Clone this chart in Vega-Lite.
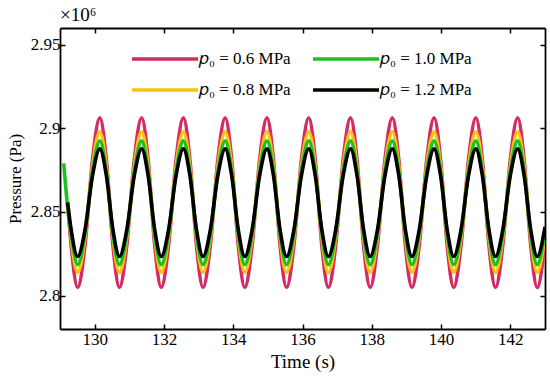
{
  "$schema": "https://vega.github.io/schema/vega-lite/v6.json",
  "width": 485,
  "height": 301,
  "autosize": {"type": "none"},
  "padding": {"left": 60, "top": 28, "right": 5, "bottom": 50},
  "background": "white",
  "config": {
    "view": {"stroke": null},
    "font": "Liberation Serif",
    "axis": {
      "domainColor": "black",
      "domainWidth": 1.8,
      "tickColor": "black",
      "tickWidth": 1.5,
      "tickSize": -5,
      "grid": false,
      "labelFont": "Liberation Serif",
      "labelFontSize": 17,
      "labelColor": "black",
      "titleFont": "Liberation Serif",
      "titleFontSize": 18,
      "titleFontWeight": "normal",
      "titleColor": "black"
    }
  },
  "title": {
    "text": "×10⁶",
    "anchor": "start",
    "frame": "group",
    "font": "Liberation Serif",
    "fontSize": 19,
    "fontWeight": "normal",
    "color": "black",
    "offset": 2
  },
  "data": {
    "values": [
      {"t": 129.108, "c": 2.879},
      {"t": 129.22, "a": 2.8556, "b": 2.8559, "c": 2.853, "d": 2.8556},
      {"t": 129.321, "a": 2.8302, "b": 2.8349, "c": 2.837, "d": 2.8395},
      {"t": 129.51, "a": 2.8048, "b": 2.8138, "c": 2.8185, "d": 2.8234},
      {"t": 129.723, "a": 2.8302, "b": 2.8349, "c": 2.837, "d": 2.8395},
      {"t": 129.937, "a": 2.881, "b": 2.877, "c": 2.874, "d": 2.8716},
      {"t": 130.15, "a": 2.9063, "b": 2.898, "c": 2.8925, "d": 2.8877},
      {"t": 130.339, "a": 2.881, "b": 2.877, "c": 2.874, "d": 2.8716},
      {"t": 130.527, "a": 2.8302, "b": 2.8349, "c": 2.837, "d": 2.8395},
      {"t": 130.716, "a": 2.8048, "b": 2.8138, "c": 2.8185, "d": 2.8234},
      {"t": 130.929, "a": 2.8302, "b": 2.8349, "c": 2.837, "d": 2.8395},
      {"t": 131.143, "a": 2.881, "b": 2.877, "c": 2.874, "d": 2.8716},
      {"t": 131.356, "a": 2.9063, "b": 2.898, "c": 2.8925, "d": 2.8877},
      {"t": 131.545, "a": 2.881, "b": 2.877, "c": 2.874, "d": 2.8716},
      {"t": 131.733, "a": 2.8302, "b": 2.8349, "c": 2.837, "d": 2.8395},
      {"t": 131.922, "a": 2.8048, "b": 2.8138, "c": 2.8185, "d": 2.8234},
      {"t": 132.135, "a": 2.8302, "b": 2.8349, "c": 2.837, "d": 2.8395},
      {"t": 132.349, "a": 2.881, "b": 2.877, "c": 2.874, "d": 2.8716},
      {"t": 132.562, "a": 2.9063, "b": 2.898, "c": 2.8925, "d": 2.8877},
      {"t": 132.751, "a": 2.881, "b": 2.877, "c": 2.874, "d": 2.8716},
      {"t": 132.939, "a": 2.8302, "b": 2.8349, "c": 2.837, "d": 2.8395},
      {"t": 133.128, "a": 2.8048, "b": 2.8138, "c": 2.8185, "d": 2.8234},
      {"t": 133.341, "a": 2.8302, "b": 2.8349, "c": 2.837, "d": 2.8395},
      {"t": 133.555, "a": 2.881, "b": 2.877, "c": 2.874, "d": 2.8716},
      {"t": 133.768, "a": 2.9063, "b": 2.898, "c": 2.8925, "d": 2.8877},
      {"t": 133.957, "a": 2.881, "b": 2.877, "c": 2.874, "d": 2.8716},
      {"t": 134.145, "a": 2.8302, "b": 2.8349, "c": 2.837, "d": 2.8395},
      {"t": 134.334, "a": 2.8048, "b": 2.8138, "c": 2.8185, "d": 2.8234},
      {"t": 134.547, "a": 2.8302, "b": 2.8349, "c": 2.837, "d": 2.8395},
      {"t": 134.761, "a": 2.881, "b": 2.877, "c": 2.874, "d": 2.8716},
      {"t": 134.974, "a": 2.9063, "b": 2.898, "c": 2.8925, "d": 2.8877},
      {"t": 135.163, "a": 2.881, "b": 2.877, "c": 2.874, "d": 2.8716},
      {"t": 135.351, "a": 2.8302, "b": 2.8349, "c": 2.837, "d": 2.8395},
      {"t": 135.54, "a": 2.8048, "b": 2.8138, "c": 2.8185, "d": 2.8234},
      {"t": 135.753, "a": 2.8302, "b": 2.8349, "c": 2.837, "d": 2.8395},
      {"t": 135.967, "a": 2.881, "b": 2.877, "c": 2.874, "d": 2.8716},
      {"t": 136.18, "a": 2.9063, "b": 2.898, "c": 2.8925, "d": 2.8877},
      {"t": 136.369, "a": 2.881, "b": 2.877, "c": 2.874, "d": 2.8716},
      {"t": 136.557, "a": 2.8302, "b": 2.8349, "c": 2.837, "d": 2.8395},
      {"t": 136.746, "a": 2.8048, "b": 2.8138, "c": 2.8185, "d": 2.8234},
      {"t": 136.959, "a": 2.8302, "b": 2.8349, "c": 2.837, "d": 2.8395},
      {"t": 137.173, "a": 2.881, "b": 2.877, "c": 2.874, "d": 2.8716},
      {"t": 137.386, "a": 2.9063, "b": 2.898, "c": 2.8925, "d": 2.8877},
      {"t": 137.575, "a": 2.881, "b": 2.877, "c": 2.874, "d": 2.8716},
      {"t": 137.763, "a": 2.8302, "b": 2.8349, "c": 2.837, "d": 2.8395},
      {"t": 137.952, "a": 2.8048, "b": 2.8138, "c": 2.8185, "d": 2.8234},
      {"t": 138.165, "a": 2.8302, "b": 2.8349, "c": 2.837, "d": 2.8395},
      {"t": 138.379, "a": 2.881, "b": 2.877, "c": 2.874, "d": 2.8716},
      {"t": 138.592, "a": 2.9063, "b": 2.898, "c": 2.8925, "d": 2.8877},
      {"t": 138.781, "a": 2.881, "b": 2.877, "c": 2.874, "d": 2.8716},
      {"t": 138.969, "a": 2.8302, "b": 2.8349, "c": 2.837, "d": 2.8395},
      {"t": 139.158, "a": 2.8048, "b": 2.8138, "c": 2.8185, "d": 2.8234},
      {"t": 139.371, "a": 2.8302, "b": 2.8349, "c": 2.837, "d": 2.8395},
      {"t": 139.585, "a": 2.881, "b": 2.877, "c": 2.874, "d": 2.8716},
      {"t": 139.798, "a": 2.9063, "b": 2.898, "c": 2.8925, "d": 2.8877},
      {"t": 139.987, "a": 2.881, "b": 2.877, "c": 2.874, "d": 2.8716},
      {"t": 140.175, "a": 2.8302, "b": 2.8349, "c": 2.837, "d": 2.8395},
      {"t": 140.364, "a": 2.8048, "b": 2.8138, "c": 2.8185, "d": 2.8234},
      {"t": 140.577, "a": 2.8302, "b": 2.8349, "c": 2.837, "d": 2.8395},
      {"t": 140.791, "a": 2.881, "b": 2.877, "c": 2.874, "d": 2.8716},
      {"t": 141.004, "a": 2.9063, "b": 2.898, "c": 2.8925, "d": 2.8877},
      {"t": 141.193, "a": 2.881, "b": 2.877, "c": 2.874, "d": 2.8716},
      {"t": 141.381, "a": 2.8302, "b": 2.8349, "c": 2.837, "d": 2.8395},
      {"t": 141.57, "a": 2.8048, "b": 2.8138, "c": 2.8185, "d": 2.8234},
      {"t": 141.783, "a": 2.8302, "b": 2.8349, "c": 2.837, "d": 2.8395},
      {"t": 141.997, "a": 2.881, "b": 2.877, "c": 2.874, "d": 2.8716},
      {"t": 142.21, "a": 2.9063, "b": 2.898, "c": 2.8925, "d": 2.8877},
      {"t": 142.399, "a": 2.881, "b": 2.877, "c": 2.874, "d": 2.8716},
      {"t": 142.587, "a": 2.8302, "b": 2.8349, "c": 2.837, "d": 2.8395},
      {"t": 142.776, "a": 2.8048, "b": 2.8138, "c": 2.8185, "d": 2.8234},
      {"t": 143.0, "a": 2.8328, "b": 2.837, "c": 2.8388, "d": 2.8411}
    ]
  },
  "transform": [{"fold": ["a", "b", "c", "d"], "as": ["s", "p"]}],
  "layer": [
    {
      "mark": {"type": "line", "strokeWidth": 3.6, "interpolate": "monotone", "clip": true},
      "encoding": {
        "x": {
          "field": "t", "type": "quantitative",
          "scale": {"domain": [129, 143], "nice": false, "zero": false},
          "axis": {"title": "Time (s)", "values": [130, 132, 134, 136, 138, 140, 142], "labelPadding": 7, "titlePadding": 5, "titleFontSize": 19}
        },
        "y": {
          "field": "p", "type": "quantitative",
          "scale": {"domain": [2.78, 2.96], "nice": false, "zero": false},
          "axis": {"title": "Pressure (Pa)", "values": [2.8, 2.85, 2.9, 2.95], "format": "~g", "labelPadding": 5, "titlePadding": 6, "titleFontSize": 17}
        },
        "color": {
          "field": "s", "type": "nominal",
          "scale": {"domain": ["a", "b", "c", "d"], "range": ["#D52B64", "#FFC20E", "#1EC01E", "#000000"]},
          "legend": {
            "title": null,
            "orient": "none",
            "legendX": 70,
            "legendY": 18,
            "columns": 2,
            "columnPadding": 15,
            "rowPadding": 10,
            "symbolType": "M-1,0H5",
            "symbolSize": 484,
            "symbolStrokeWidth": 3.5,
            "labelOffset": 43,
            "labelFont": "Liberation Serif",
            "labelFontSize": 17,
            "labelColor": "black",
            "labelExpr": "datum.label == 'a' ? '𝑝₀ = 0.6 MPa' : datum.label == 'b' ? '𝑝₀ = 0.8 MPa' : datum.label == 'c' ? '𝑝₀ = 1.0 MPa' : '𝑝₀ = 1.2 MPa'"
          }
        }
      }
    },
    {
      "mark": {"type": "line", "opacity": 0},
      "encoding": {
        "x": {
          "field": "t", "type": "quantitative",
          "scale": {"domain": [129, 143], "nice": false, "zero": false},
          "axis": {"orient": "top", "title": null, "labels": false, "values": [130, 132, 134, 136, 138, 140, 142]}
        },
        "y": {
          "field": "p", "type": "quantitative",
          "scale": {"domain": [2.78, 2.96], "nice": false, "zero": false},
          "axis": {"orient": "right", "title": null, "labels": false, "values": [2.8, 2.85, 2.9, 2.95]}
        },
        "detail": {"field": "s"}
      }
    }
  ],
  "resolve": {"axis": {"x": "independent", "y": "independent"}}
}
